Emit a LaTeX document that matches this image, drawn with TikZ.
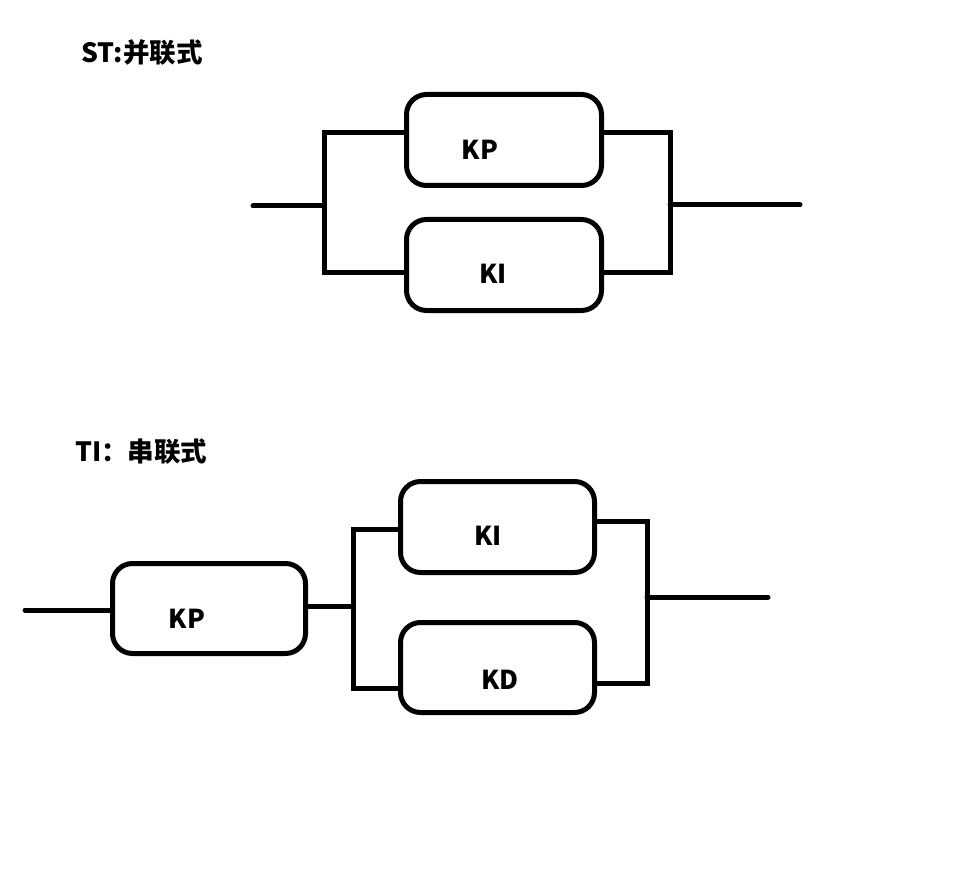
\documentclass[tikz,border=0pt]{standalone}
\usepackage{fontspec}
\newfontfamily\cjk{Noto Sans CJK SC}
\begin{document}
\begin{tikzpicture}[x=1pt,y=-1pt,
  wire/.style={line width=5pt,line cap=round,line join=miter},
  blk/.style={draw,line width=5pt,rounded corners=20pt,inner sep=0pt},
  lbl/.style={font=\cjk\bfseries\fontsize{26}{30}\selectfont,inner sep=0pt},
  ttl/.style={font=\cjk\bfseries\fontsize{26.5}{30}\selectfont,inner sep=0pt,anchor=west}]
\useasboundingbox (0,0) rectangle (962,880);
% titles
\node[ttl] (t1) at (81,52) {ST:并联式};
\node[ttl] (t2) at (75,452) {TI：串联式};
% top diagram
\node[blk,minimum width=195pt,minimum height=91pt] (kp1) at (504,140) {};
\node[blk,minimum width=195pt,minimum height=91pt] (ki1) at (504,265) {};
\node[lbl] (kp1t) at (480,150) {KP};
\node[lbl] (ki1t) at (493,274) {KI};
\coordinate (in1) at (253,206);
\coordinate (ja1) at (324,206);
\coordinate (jt1) at (324,133);
\coordinate (jb1) at (324,272);
\coordinate (jt2) at (670,133);
\coordinate (jb2) at (670,272);
\coordinate (out1) at (800,205);
\draw[wire] (in1) -- (ja1);
\draw[wire] (jt1 -| kp1.west) -- (jt1) -- (jb1) -- (jb1 -| ki1.west);
\draw[wire] (jt2 -| kp1.east) -- (jt2) -- (jb2) -- (jb2 -| ki1.east);
\draw[wire] (jt2 |- out1) -- (out1);
% bottom diagram
\node[blk,minimum width=193pt,minimum height=90pt] (kp2) at (209,608.5) {};
\node[blk,minimum width=194pt,minimum height=91pt] (ki2) at (497.5,527) {};
\node[blk,minimum width=194pt,minimum height=90pt] (kd2) at (497.5,667.5) {};
\node[lbl] (kp2t) at (187,619) {KP};
\node[lbl] (ki2t) at (488,536) {KI};
\node[lbl] (kd2t) at (500,680) {KD};
\coordinate (in2) at (25,610);
\coordinate (jm3) at (353,606);
\coordinate (jt3) at (353,529);
\coordinate (jb3) at (353,688);
\coordinate (jt4) at (647,521);
\coordinate (jb4) at (647,683);
\coordinate (out2) at (768,597);
\draw[wire] (in2) -- (in2 -| kp2.west);
\draw[wire] (jm3 -| kp2.east) -- (jm3);
\draw[wire] (jt3 -| ki2.west) -- (jt3) -- (jb3) -- (jb3 -| kd2.west);
\draw[wire] (jt4 -| ki2.east) -- (jt4) -- (jb4) -- (jb4 -| kd2.east);
\draw[wire] (jt4 |- out2) -- (out2);
\end{tikzpicture}
\end{document}
